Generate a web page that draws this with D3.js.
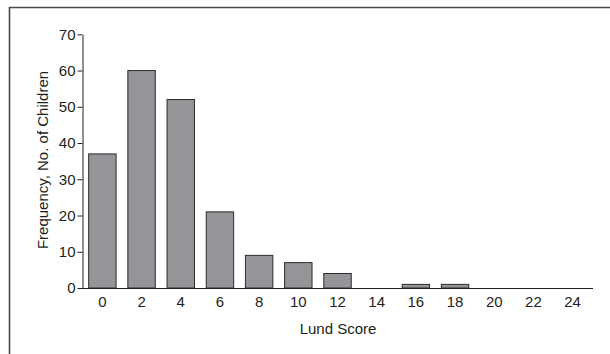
<!DOCTYPE html>
<html>
<head>
<meta charset="utf-8">
<script src="https://cdn.jsdelivr.net/npm/d3@7"></script>
<style>
  body { margin: 0; background: #fff; }
  svg text { font-family: "Liberation Sans Narrow", "Liberation Sans", "DejaVu Sans Condensed", sans-serif; fill: #231f20; }
</style>
</head>
<body>
<div id="chart"></div>
<script>
let scores      =   [0, 2, 4, 6, 8, 10, 12, 14, 16, 18, 20, 22, 24];
let frequency   =   [37, 60, 52, 21, 9, 7, 4, 0, 1, 1, 0, 0, 0];
let y_ticks     =   [0, 10, 20, 30, 40, 50, 60, 70];

let data = scores.map((s, i) => [s, frequency[i]]);

let chart_width  = 610;
let chart_height = 354;

let svg = d3.select("#chart")
            .append('svg')
            .attr('width', chart_width)
            .attr('height', chart_height);

// frame (top + left)
svg.append('path')
  .attr('d', 'M9.5,354V7.5H610')
  .attr('fill', 'none')
  .attr('stroke', '#4a4a4a')
  .attr('stroke-width', 1.6);

//scales
let x_scale = d3.scaleBand()
        .domain(scores)
        .range([82, 593])
        .paddingInner(0.3)
        .paddingOuter(0.17);

let y_scale = d3.scaleLinear()
        .domain([0, 70])
        .range([288, 34.3]);

//bars
svg.append('g')
  .selectAll('rect')
  .data(data.filter(d => d[1] > 0))
  .enter()
  .append('rect')
  .attr('x', d => x_scale(d[0]))
  .attr('y', d => y_scale(d[1]))
  .attr('width', x_scale.bandwidth())
  .attr('height', d => y_scale(0) - y_scale(d[1]))
  .attr('fill', '#939598')
  .attr('stroke', '#2b2b2b')
  .attr('stroke-width', 1);

//y axis
let y_axis = d3.axisLeft(y_scale)
        .tickValues(y_ticks)
        .tickSize(5)
        .tickSizeOuter(0)
        .tickPadding(2);

let yg = svg.append('g')
  .attr('transform', 'translate(82.5,0)')
  .call(y_axis);
yg.selectAll('line, path').attr('stroke', '#231f20');
yg.selectAll('text').attr('font-size', 15);

//x axis
let x_axis = d3.axisBottom(x_scale)
        .tickSize(0)
        .tickSizeOuter(0)
        .tickPadding(8);

let xg = svg.append('g')
  .attr('transform', 'translate(0,288.5)')
  .call(x_axis);
xg.select('path').attr('stroke', '#231f20').attr('d', 'M82,0H593');
xg.selectAll('text').attr('font-size', 15);

//titles
svg.append('text')
  .attr('x', 338)
  .attr('y', 334)
  .attr('text-anchor', 'middle')
  .attr('font-size', 15)
  .text('Lund Score');

svg.append('text')
  .attr('transform', 'translate(48,160) rotate(-90)')
  .attr('text-anchor', 'middle')
  .attr('font-size', 15)
  .text('Frequency, No. of Children');
</script>
</body>
</html>
